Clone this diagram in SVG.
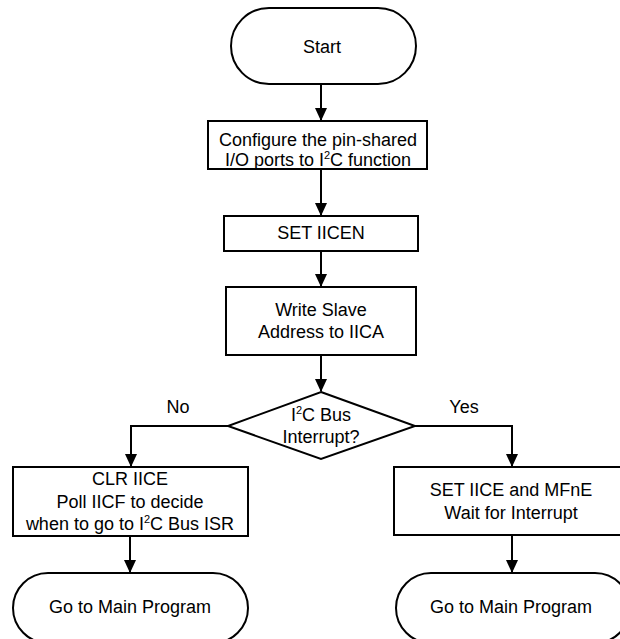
<svg xmlns="http://www.w3.org/2000/svg" width="620" height="639" viewBox="0 0 620 639">
<defs>
<style>
.s{fill:#fff;stroke:#000;stroke-width:2}
.t{font-family:"Liberation Sans",Arial,sans-serif;font-size:18px;fill:#000;text-anchor:middle}
.c{fill:none;stroke:#000;stroke-width:2}
.sup{font-size:11px}
</style>
<path id="ah" d="M-6,-13 L6,-13 L0,0 Z" fill="#000"/>
</defs>
<rect width="620" height="639" fill="#fff"/>
<g id="connectors">
<path class="c" d="M321,84 V120"/>
<path class="c" d="M321,169 V215"/>
<path class="c" d="M321,251 V286"/>
<path class="c" d="M321,355 V391"/>
<path class="c" d="M228,426 H131 V466"/>
<path class="c" d="M415,426 H512 V466"/>
<path class="c" d="M130,536 V572"/>
<path class="c" d="M512,535 V572"/>
<use href="#ah" x="321" y="121"/>
<use href="#ah" x="321" y="216"/>
<use href="#ah" x="321" y="287"/>
<use href="#ah" x="321" y="392"/>
<use href="#ah" x="131" y="467"/>
<use href="#ah" x="512" y="467"/>
<use href="#ah" x="130" y="573"/>
<use href="#ah" x="512" y="573"/>
</g>
<g id="start">
<rect class="s" x="231" y="8" width="185" height="76" rx="38" ry="38"/>
<text class="t" x="322" y="53">Start</text>
</g>
<g id="configure">
<rect class="s" x="208" y="121" width="219" height="48"/>
<text class="t" x="318" y="146">Configure the pin-shared</text>
<text class="t" x="318" y="166">I/O ports to I<tspan class="sup" dy="-7">2</tspan><tspan dy="7">C function</tspan></text>
</g>
<g id="set-iicen">
<rect class="s" x="224" y="216" width="194" height="35"/>
<text class="t" x="321" y="239">SET IICEN</text>
</g>
<g id="write-slave">
<rect class="s" x="226" y="287" width="190" height="68"/>
<text class="t" x="321" y="316">Write Slave</text>
<text class="t" x="321" y="338">Address to IICA</text>
</g>
<g id="decision">
<polygon class="s" points="321,392 415,426 321,459 228,426"/>
<text class="t" x="321" y="421">I<tspan class="sup" dy="-7">2</tspan><tspan dy="7">C Bus</tspan></text>
<text class="t" x="321" y="443">Interrupt?</text>
</g>
<g id="labels">
<text class="t" x="178" y="413">No</text>
<text class="t" x="464" y="413">Yes</text>
</g>
<g id="clr-iice">
<rect class="s" x="13" y="467" width="235" height="69"/>
<text class="t" x="130" y="485">CLR IICE</text>
<text class="t" x="130" y="508">Poll IICF to decide</text>
<text class="t" x="130" y="530">when to go to I<tspan class="sup" dy="-7">2</tspan><tspan dy="7">C Bus ISR</tspan></text>
</g>
<g id="set-iice">
<rect class="s" x="394" y="467" width="236" height="68"/>
<text class="t" x="511" y="496">SET IICE and MFnE</text>
<text class="t" x="511" y="519">Wait for Interrupt</text>
</g>
<g id="main-left">
<rect class="s" x="13" y="573" width="235" height="70" rx="35" ry="35"/>
<text class="t" x="130" y="613">Go to Main Program</text>
</g>
<g id="main-right">
<rect class="s" x="396" y="573" width="234" height="70" rx="35" ry="35"/>
<text class="t" x="511" y="613">Go to Main Program</text>
</g>
</svg>
